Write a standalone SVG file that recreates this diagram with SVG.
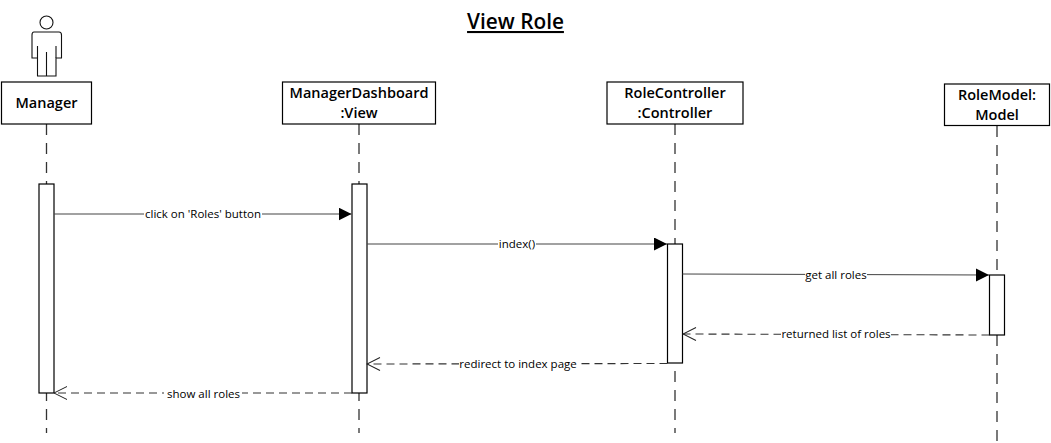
<svg xmlns="http://www.w3.org/2000/svg" width="1051" height="443" viewBox="0 0 1051 443">
<style>
text{font-family:"Open Sans","Noto Sans","Liberation Sans",sans-serif;fill:#000;text-anchor:middle}
.t{font-size:20.8px;font-weight:600;text-decoration:underline}
.n{font-size:14.5px;font-weight:600}
.m{font-size:11.5px}
.b{fill:#fff;stroke:#000;stroke-width:1.2}
.l{fill:none;stroke:#333;stroke-width:1.3;stroke-dasharray:11 8}
.s{fill:none;stroke:#444;stroke-width:1.2}
.d{fill:none;stroke:#333;stroke-width:1.1;stroke-dasharray:8 5}
.h{fill:#fff;stroke:none}
</style>
<defs>
<marker id="f" markerUnits="userSpaceOnUse" markerWidth="14" markerHeight="14" refX="13" refY="6.500" orient="auto"><path d="M0 0L13 6.500L0 13Z" fill="#000"/></marker>
<marker id="o" markerUnits="userSpaceOnUse" markerWidth="15" markerHeight="16" refX="14" refY="7.500" orient="auto"><path d="M1 1L14 7.500L1 14" fill="none" stroke="#222" stroke-width="1"/></marker>
</defs>
<text class="t" x="515.500" y="29">View Role</text>
<g id="connectors">
<path class="l" d="M46.500 124V433"/>
<path class="l" d="M359 124V433"/>
<path class="l" d="M675 124V433"/>
<path class="l" d="M997 126V443"/>
</g>
<g id="actor" fill="none" stroke="#111" stroke-width="1.1">
<circle cx="46.500" cy="22.500" r="6.500"/>
<path d="M34 32H59Q61.500 32 61.500 35V58H56V76H37.500V58H32V35Q32 32 34 32Z"/>
<path d="M37.500 46V58M56 46V58M46.500 52V76"/>
</g>
<g id="manager"><rect class="b" x="1.500" y="82" width="90" height="42"/><text class="n" x="46.500" y="108">Manager</text></g>
<g id="dashboard"><rect class="b" x="282.500" y="82" width="153" height="42"/><text class="n" x="359" y="98">ManagerDashboard</text><text class="n" x="359" y="118">:View</text></g>
<g id="controller"><rect class="b" x="607" y="82" width="136" height="42"/><text class="n" x="675" y="98">RoleController</text><text class="n" x="675" y="118">:Controller</text></g>
<g id="model"><rect class="b" x="944.500" y="84" width="105" height="41.500"/><text class="n" x="997" y="100">RoleModel:</text><text class="n" x="997" y="120">Model</text></g>
<g id="activations">
<rect class="b" x="39" y="184" width="15" height="209"/>
<rect class="b" x="352" y="184" width="15" height="209"/>
<rect class="b" x="667.500" y="244" width="15" height="119"/>
<rect class="b" x="989.500" y="275" width="15" height="60"/>
</g>
<g id="messages">
<path class="s" d="M54 214H351.500" marker-end="url(#f)"/>
<path class="s" d="M367 244H667" marker-end="url(#f)"/>
<path class="s" d="M682.500 274L989 275" marker-end="url(#f)"/>
<path class="d" d="M989.500 335L683 334" marker-end="url(#o)"/>
<path class="d" d="M667.500 363.500L367 364" marker-end="url(#o)"/>
<path class="d" d="M352 393H54" marker-end="url(#o)"/>
<rect class="h" x="144" y="207" width="118" height="14"/><text class="m" x="203" y="218">click on 'Roles' button</text>
<rect class="h" x="498" y="237" width="38" height="14"/><text class="m" x="517" y="248">index()</text>
<rect class="h" x="805" y="268" width="62" height="14"/><text class="m" x="836" y="279">get all roles</text>
<rect class="h" x="781" y="327" width="110" height="14"/><text class="m" x="836" y="338">returned list of roles</text>
<rect class="h" x="459" y="357" width="118" height="14"/><text class="m" x="518" y="368">redirect to index page</text>
<rect class="h" x="164" y="386" width="78" height="14"/><text class="m" x="203.500" y="398">show all roles</text>
</g>
</svg>
